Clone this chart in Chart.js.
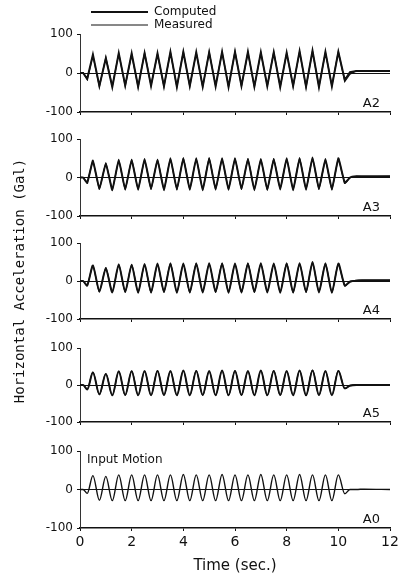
<!DOCTYPE html>
<html><head><meta charset="utf-8">
<script src="https://cdn.jsdelivr.net/npm/chart.js@4"></script>
<style>
html,body{margin:0;padding:0;background:#fff;}
#wrap{position:relative;width:406px;height:579px;overflow:hidden;background:#fff;}
canvas{position:absolute;}
</style></head><body><div id="wrap"></div>
<script>
// ---- data ----
const times = [0, 0.12, 0.28, 0.5, 0.75, 1, 1.25, 1.5, 1.75, 2, 2.25, 2.5, 2.75, 3, 3.25, 3.5, 3.75, 4, 4.25, 4.5, 4.75, 5, 5.25, 5.5, 5.75, 6, 6.25, 6.5, 6.75, 7, 7.25, 7.5, 7.75, 8, 8.25, 8.5, 8.75, 9, 9.25, 9.5, 9.75, 10, 10.25, 10.45, 10.7, 11, 12];

const a2Computed = [0, 0, -15, 47,-33, 38,-36, 51,-32, 50,-35, 51,-33, 50,-34, 54,-36, 54,-33, 53,-35, 53,-34, 54,-36, 54,-33, 54,-35, 53,-34, 53,-36, 52,-33, 56,-35, 57,-36, 54,-34, 54, -18, 2, 5, 5, 5];
const a2Measured = [0, 1, -17, 45,-35, 40,-34, 50,-33, 48,-36, 52,-32, 49,-35, 53,-35, 55,-34, 52,-36, 54,-33, 53,-35, 55,-34, 53,-36, 52,-33, 54,-35, 51,-34, 55,-36, 56,-35, 53,-33, 55, -22, -3, 6, 4, 5];

const a3Computed = [0, 0, -14, 44,-30, 37,-33, 46,-31, 46,-32, 48,-30, 46,-33, 50,-31, 50,-32, 50,-33, 50,-31, 50,-32, 50,-30, 48,-33, 48,-32, 48,-31, 50,-33, 50,-32, 52,-30, 48,-31, 50, -14, 0, 3, 3, 3];
const a3Measured = [0, 0, -13, 43,-31, 38,-32, 45,-32, 47,-31, 47,-31, 47,-32, 49,-32, 51,-31, 49,-32, 51,-32, 49,-31, 50,-31, 49,-32, 47,-33, 49,-30, 49,-32, 51,-31, 51,-31, 47,-32, 49, -15, -1, 3, 2, 3];

const a4Computed = [0, 0, -12, 41,-28, 34,-30, 44,-29, 43,-31, 45,-30, 46,-29, 46,-31, 46,-30, 46,-30, 47,-29, 46,-31, 46,-30, 46,-29, 47,-30, 46,-31, 46,-30, 47,-29, 50,-30, 46,-31, 46, -12, -2, 1, 2, 2];
const a4Measured = [0, 0, -11, 40,-29, 35,-29, 43,-30, 44,-30, 44,-31, 45,-30, 47,-30, 45,-31, 47,-29, 46,-30, 47,-30, 45,-31, 47,-30, 46,-29, 45,-30, 47,-31, 46,-30, 49,-29, 47,-30, 45, -13, -1, 2, 2, 2];

const a5Computed = [0, 0, -12, 34,-25, 30,-28, 37,-27, 37,-28, 38,-28, 38,-27, 38,-28, 39,-28, 38,-27, 38,-28, 39,-28, 38,-27, 38,-28, 39,-28, 38,-27, 38,-28, 39,-28, 39,-27, 38,-28, 38, -9, -2, 0, 0, 0];
const a5Measured = [0, 0, -11, 35,-26, 31,-27, 36,-28, 38,-27, 37,-28, 39,-28, 37,-27, 38,-28, 39,-28, 37,-27, 38,-28, 39,-28, 37,-27, 38,-28, 39,-28, 37,-27, 38,-28, 40,-28, 37,-27, 39, -10, -1, 1, 0, 0];

const a0Input = [0, 0, -10, 36,-28, 34,-29, 38,-29, 38,-29, 38,-29, 38,-29, 38,-29, 39,-29, 38,-29, 38,-29, 39,-29, 38,-29, 38,-29, 39,-29, 38,-29, 38,-29, 39,-29, 38,-29, 38,-29, 38, -11, 0, 0, 1, 0];

const panelNames = ['A2', 'A3', 'A4', 'A5', 'A0'];
const panelNotes = ['', '', '', '', 'Input Motion'];
const seriesNames = ['Computed', 'Measured'];
const yTickValues = [-100, 0, 100];
const xTickValues = [0, 2, 4, 6, 8, 10, 12];
const yTitle = 'Horizontal Acceleration (Gal)';
const xTitle = 'Time (sec.)';

// ---- layout ----
const W = 406, H = 579;
const panels = [
  { series: [a2Computed, a2Measured], top: 34,  bottom: 112, tension: 0,    smooth: false },
  { series: [a3Computed, a3Measured], top: 139, bottom: 216, tension: 0.1,  smooth: false },
  { series: [a4Computed, a4Measured], top: 243, bottom: 319, tension: 0.2,  smooth: false },
  { series: [a5Computed, a5Measured], top: 348, bottom: 422, tension: 0,    smooth: true },
  { series: [a0Input],                top: 451, bottom: 528, tension: 0,    smooth: true }
];
const INK = '#111';
const FONT = 'DejaVu Sans';

function makeCanvas(left, top, w, h) {
  const c = document.createElement('canvas');
  c.width = w; c.height = h;
  c.style.left = left + 'px'; c.style.top = top + 'px';
  c.style.width = w + 'px'; c.style.height = h + 'px';
  document.getElementById('wrap').appendChild(c);
  return c;
}

const tagPlugin = {
  id: 'panelTag',
  afterDraw(chart, args, opts) {
    const { ctx, chartArea: a } = chart;
    ctx.save();
    ctx.fillStyle = INK;
    ctx.font = '13px "' + FONT + '"';
    ctx.textAlign = 'right';
    ctx.textBaseline = 'alphabetic';
    ctx.fillText(opts.name, a.right - 10, a.bottom - 5);
    if (opts.note) {
      ctx.font = '12px "' + FONT + '"';
      ctx.textAlign = 'left';
      ctx.textBaseline = 'middle';
      ctx.fillText(opts.note, a.left + 7, a.top + 9);
    }
    ctx.restore();
  }
};

panels.forEach((p, i) => {
  const isLast = i === panels.length - 1;
  const xH = isLast ? 51 : 6;
  const canvas = makeCanvas(0, 0, W, H);
  new Chart(canvas, {
    type: 'line',
    data: {
      datasets: p.series.map((vals, k) => ({
        label: seriesNames[k],
        data: times.map((t, j) => ({ x: t, y: vals[j] })),
        borderColor: INK,
        borderWidth: p.series.length === 1 ? 1.4 : (k === 0 ? 2 : 1.2),
        pointRadius: 0,
        fill: false,
        tension: p.tension,
        cubicInterpolationMode: p.smooth ? 'monotone' : 'default'
      }))
    },
    options: {
      responsive: false,
      animation: false,
      devicePixelRatio: 1,
      layout: { padding: { left: 0, right: 16, top: p.top, bottom: H - p.bottom - xH } },
      plugins: {
        legend: { display: false },
        tooltip: { enabled: false },
        panelTag: { name: panelNames[i], note: panelNotes[i] }
      },
      scales: {
        x: {
          type: 'linear', min: 0, max: 12,
          afterBuildTicks: s => { s.ticks = xTickValues.map(v => ({ value: v })); },
          afterFit: s => { s.height = xH; },
          grid: { display: true, drawOnChartArea: false, drawTicks: true, tickLength: 3, color: INK },
          border: { display: true, color: INK, width: 1.5 },
          ticks: { display: isLast, color: INK, font: { family: FONT, size: 14 }, padding: 3, maxRotation: 0 },
          title: { display: isLast, text: xTitle, color: INK, font: { family: FONT, size: 15 }, padding: { top: 0, bottom: 4 } }
        },
        y: {
          min: -100, max: 100,
          afterBuildTicks: s => { s.ticks = yTickValues.map(v => ({ value: v })); },
          afterFit: s => { s.width = 80; },
          grid: {
            color: c => (c.tick && c.tick.value === 0) ? INK : 'rgba(0,0,0,0)',
            tickColor: INK, lineWidth: 1, tickLength: 3
          },
          border: { display: true, color: '#333', width: 1 },
          ticks: { color: INK, font: { family: FONT, size: 12 }, padding: 4 },
          title: {
            display: i === 2, text: yTitle, color: INK,
            font: { family: 'DejaVu Sans Mono', size: 14 }, padding: { top: 12, bottom: 0 }
          }
        }
      }
    },
    plugins: [tagPlugin]
  });
});

// legend
const lc = makeCanvas(90, 5, 150, 100);
new Chart(lc, {
  type: 'line',
  data: { datasets: seriesNames.map((n, k) => ({ label: n, data: [], borderColor: INK, backgroundColor: INK, borderWidth: k === 0 ? 2 : 1 })) },
  options: {
    responsive: false, animation: false, devicePixelRatio: 1,
    scales: { x: { display: false }, y: { display: false } },
    plugins: {
      tooltip: { enabled: false },
      legend: {
        display: true, position: 'top', align: 'start',
        labels: {
          usePointStyle: true, pointStyle: 'line', pointStyleWidth: 57, boxHeight: 12,
          color: INK, font: { family: FONT, size: 12 }, padding: 1
        }
      }
    }
  }
});
</script>
</body></html>
